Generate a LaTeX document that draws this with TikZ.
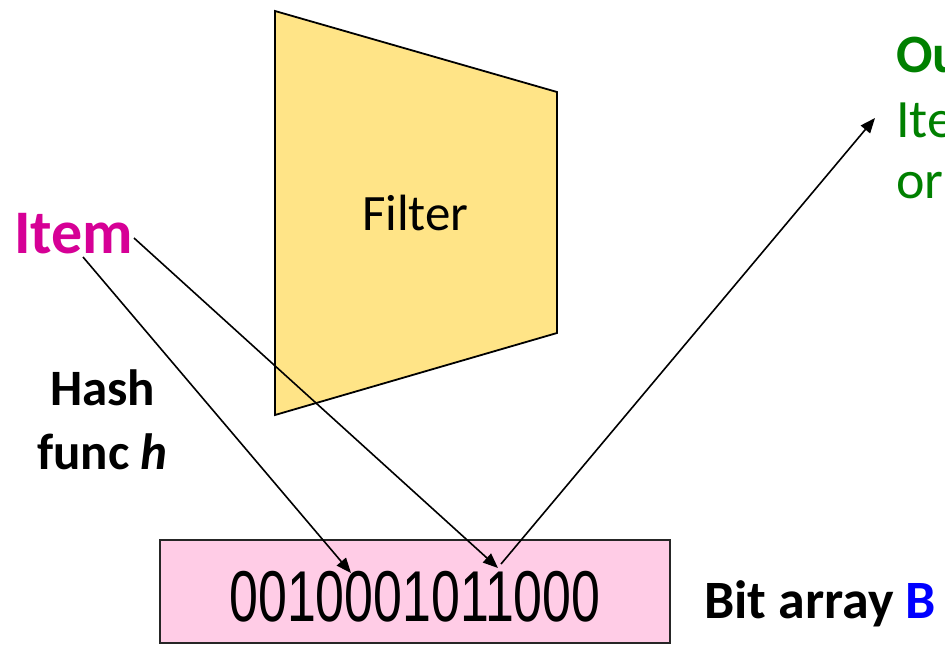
\documentclass[tikz,border=0pt]{standalone}
\usepackage{fontspec}
\setmainfont{Carlito}
\newfontfamily\narrowdigits[FakeStretch=0.72]{Liberation Sans}
\usetikzlibrary{arrows.meta}
\definecolor{filteryellow}{RGB}{255,228,135}
\definecolor{bitpink}{RGB}{255,204,230}
\definecolor{itemmag}{RGB}{214,0,150}
\definecolor{outgreen}{RGB}{0,128,0}
\begin{document}
\begin{tikzpicture}[x=1pt,y=-1pt,
  lbl/.style={inner sep=0pt,anchor=base west},
  conn/.style={line width=1.6pt,-{Triangle[length=15pt,width=12pt]}},
  plain/.style={line width=1.6pt}]
\clip (0,0) rectangle (945,646);
\fill[white] (0,0) rectangle (945,646);
% filter
\draw[line width=1.8pt,fill=filteryellow] (275,11) -- (557,92) -- (557,333) -- (275,415) -- cycle;
\node[lbl,font=\fontsize{51}{60}\selectfont] (filter) at (362,230) {Filter};
% bit array
\node[draw=black!85,line width=1.6pt,fill=bitpink,minimum width=510pt,minimum height=103pt,inner sep=0pt] (bits) at (415,591.5) {};
\node[inner sep=0pt,anchor=base,font=\narrowdigits\fontsize{72}{80}\selectfont] (digits) at (415,621) {0010001011000};
% texts
\node[lbl,font=\bfseries\fontsize{62}{70}\selectfont,text=itemmag] (item) at (14,253) {Item};
\node[lbl,font=\bfseries\fontsize{51}{60}\selectfont] (hash) at (50,405) {Hash};
\node[lbl,font=\bfseries\fontsize{51}{60}\selectfont] (func) at (37,469) {func \textit{h}};
\node[lbl,font=\bfseries\fontsize{54}{60}\selectfont] (bitlbl) at (704,618) {Bit array \textcolor{blue}{B}};
\node[lbl,font=\bfseries\fontsize{54}{60}\selectfont,text=outgreen] (out1) at (896,72) {Ou};
\node[lbl,font=\fontsize{54}{60}\selectfont,text=outgreen] (out2) at (896,137) {Ite};
\node[lbl,font=\fontsize{54}{60}\selectfont,text=outgreen] (out3) at (896,198) {or};
% connectors
\coordinate (s1) at (83,257);
\coordinate (t1) at (351,573);
\coordinate (s2) at (134,238);
\coordinate (t2) at (498,568);
\coordinate (s3) at (501,564);
\coordinate (t3) at (875,118);
\draw[conn] (s1) -- (t1);
\draw[conn] (s2) -- (t2);
\draw[conn] (s3) -- (t3);
\end{tikzpicture}
\end{document}
